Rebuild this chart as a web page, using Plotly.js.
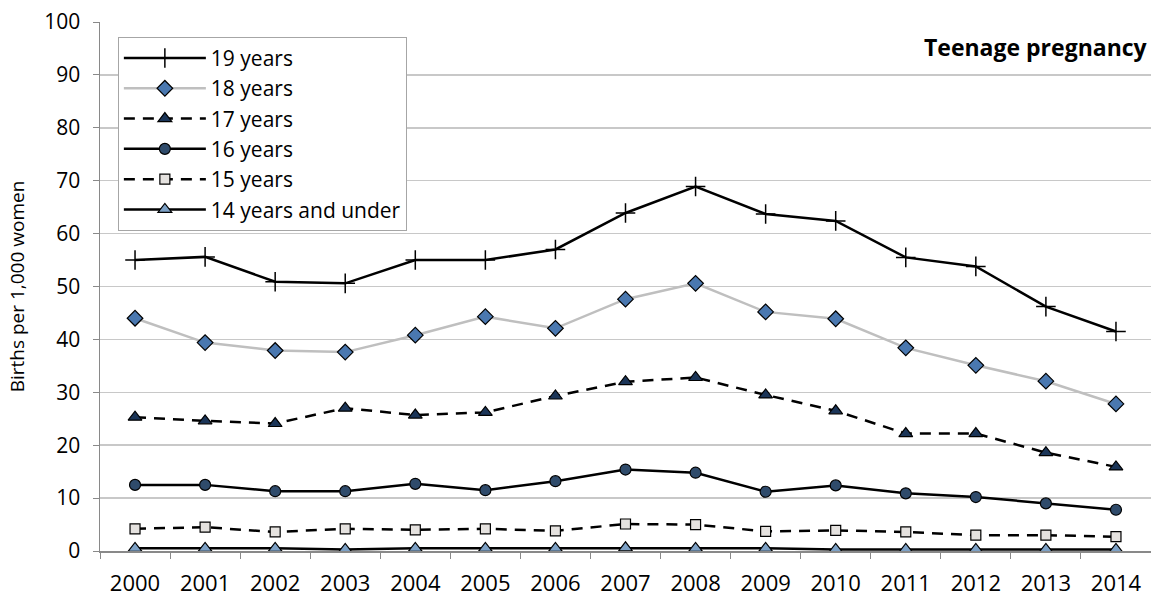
<!DOCTYPE html>
<html><head><meta charset="utf-8">
<script src="https://cdn.plot.ly/plotly-3.0.1.min.js"></script>
<style>html,body{margin:0;padding:0;background:#fff}#chart{width:1151px;height:598px}</style>
</head><body><div id="chart"></div>
<script>
const years = ["2000","2001","2002","2003","2004","2005","2006","2007","2008","2009","2010","2011","2012","2013","2014"];
const y19 = [55.0,55.6,50.9,50.6,55.0,55.0,57.0,63.9,68.9,63.7,62.4,55.5,53.8,46.2,41.5];
const y18 = [44.0,39.4,37.9,37.6,40.8,44.3,42.1,47.6,50.6,45.2,43.9,38.4,35.1,32.1,27.8];
const y17 = [25.3,24.6,24.1,27.0,25.7,26.2,29.3,32.0,32.8,29.5,26.5,22.2,22.2,18.6,15.9];
const y16 = [12.5,12.5,11.3,11.3,12.7,11.5,13.2,15.4,14.8,11.2,12.4,10.9,10.2,9.0,7.8];
const y15 = [4.2,4.5,3.6,4.2,4.0,4.2,3.8,5.1,5.0,3.7,3.9,3.6,3.0,3.0,2.7];
const y14 = [0.5,0.5,0.5,0.3,0.5,0.5,0.5,0.6,0.5,0.5,0.3,0.3,0.3,0.3,0.3];
const seriesNames = ["19 years","18 years","17 years","16 years","15 years","14 years and under"];
const yTicks = [0,10,20,30,40,50,60,70,80,90,100];

const outline = {color:'#000000', width:1.2};
const dashed = '11px,8px';
const traces = [
  {name:seriesNames[0], y:y19, line:{color:'#000000',width:2.5},
   marker:{symbol:'cross-thin', size:14, line:{color:'#000000',width:1.5}}},
  {name:seriesNames[1], y:y18, line:{color:'#bfbfbf',width:2.5},
   marker:{symbol:'diamond', size:12, color:'#4a78b0', line:outline}},
  {name:seriesNames[2], y:y17, line:{color:'#000000',width:2.5,dash:dashed},
   marker:{symbol:'triangle-up', size:12, color:'#1b3558', line:outline}},
  {name:seriesNames[3], y:y16, line:{color:'#000000',width:2.5},
   marker:{symbol:'circle', size:11, color:'#2f4b6b', line:outline}},
  {name:seriesNames[4], y:y15, line:{color:'#000000',width:2.5,dash:dashed},
   marker:{symbol:'square', size:10, color:'#e5e2df', line:outline}},
  {name:seriesNames[5], y:y14, line:{color:'#000000',width:2.5},
   marker:{symbol:'triangle-up', size:12, color:'#7da1c6', line:outline}}
].map(t => Object.assign({x:years, type:'scatter', mode:'lines+markers', cliponaxis:false}, t));

const fam = 'Open Sans, Noto Sans, sans-serif';
const blk = '#000000';
const layout = {
  width:1151, height:598,
  margin:{l:100, r:0, t:22, b:47},
  paper_bgcolor:'#ffffff', plot_bgcolor:'#ffffff',
  font:{family:fam, color:blk, size:21},
  showlegend:true,
  legend:{x:0.017, y:0.972, xanchor:'left', yanchor:'top', bgcolor:'#ffffff',
    bordercolor:'#a6a6a6', borderwidth:1, font:{size:21, family:fam, color:blk},
    tracegroupgap:0, itemwidth:82},
  xaxis:{type:'category', range:[-0.5,14.5], tickson:'boundaries', ticks:'outside', ticklen:6,
    tickcolor:'#898989', showline:true, linecolor:'#898989', linewidth:1.5, showgrid:false,
    tickfont:{size:22, family:fam, color:blk}, ticklabelstandoff:12, fixedrange:true},
  yaxis:{range:[0,100], tickvals:yTicks, ticks:'outside', ticklen:6, tickcolor:'#898989',
    showline:true, linecolor:'#898989', linewidth:1.5, gridcolor:'#c8c8c8', gridwidth:1.5,
    zeroline:false, tickfont:{size:21, family:fam, color:blk}, ticklabelstandoff:8,
    title:{text:'Births per 1,000 women', font:{size:19, family:fam, color:blk}, standoff:14}},
  annotations:[{text:'<b>Teenage pregnancy</b>', xref:'paper', yref:'paper', x:0.9995, y:0.952,
    xanchor:'right', yanchor:'middle', showarrow:false, font:{size:23, family:fam, color:blk}}]
};
Plotly.newPlot('chart', traces, layout, {displayModeBar:false, staticPlot:true});
</script></body></html>
